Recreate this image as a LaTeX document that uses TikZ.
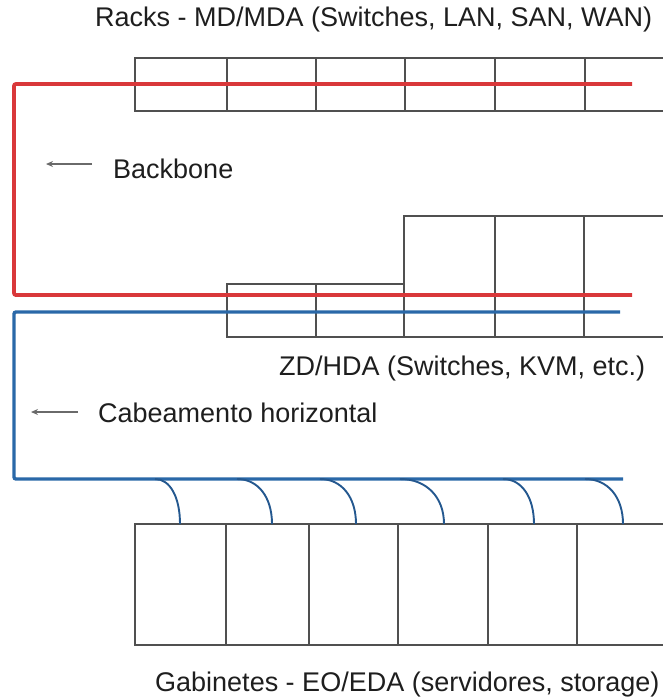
\documentclass[tikz,border=0pt]{standalone}
\usepackage{fontspec}
\setmainfont{Liberation Sans}
\usetikzlibrary{arrows.meta}
\definecolor{rackgray}{HTML}{505050}
\definecolor{bbred}{HTML}{D9383A}
\definecolor{hzblue}{HTML}{2A68A8}
\definecolor{txt}{HTML}{1E1E1E}
\tikzset{
  rack/.style={draw=rackgray, line width=1.5pt},
  backbone/.style={draw=bbred, line width=3.8pt, rounded corners=2pt},
  horiz/.style={draw=hzblue, line width=3.4pt, rounded corners=2pt},
  patch/.style={draw=hzblue!85!black, line width=1.9pt},
  pointer/.style={draw=rackgray!85, line width=2pt, -{Stealth[length=7pt,width=6pt]}},
  lbl/.style={text=txt, inner sep=0pt, anchor=base west, font=\fontsize{27}{32}\selectfont}
}
\begin{document}
\begin{tikzpicture}[x=1pt,y=-1pt]
\useasboundingbox (0,0) rectangle (663,697);
% ---- top rack row (MD/MDA)
\draw[rack] (663,58) -- (135,58) -- (135,111) -- (663,111);
\foreach \x in {227,316,405,495,585} \draw[rack] (\x,58) -- (\x,111);
% ---- middle racks (ZD/HDA)
\draw[rack] (663,216) -- (404,216) -- (404,337);
\draw[rack] (404,284) -- (227,284) -- (227,337) -- (663,337);
\foreach \x in {316} \draw[rack] (\x,284) -- (\x,337);
\foreach \x in {495,584} \draw[rack] (\x,216) -- (\x,337);
% ---- bottom cabinets (EO/EDA)
\draw[rack] (663,524) -- (135,524) -- (135,645) -- (663,645);
\foreach \x in {226,309,398,488,577} \draw[rack] (\x,524) -- (\x,645);
% ---- backbone (red)
\coordinate (bbA) at (632,84);
\coordinate (bbB) at (14,84);
\coordinate (bbC) at (14,295);
\coordinate (bbD) at (632,295);
\draw[backbone] (bbA) -- (bbB) -- (bbC) -- (bbD);
% ---- horizontal cabling (blue)
\coordinate (hzA) at (620,312);
\coordinate (hzB) at (14,312);
\coordinate (hzC) at (14,479);
\coordinate (hzD) at (623,479);
\draw[horiz] (hzA) -- (hzB) -- (hzC) -- (hzD);
% ---- patch arcs
\foreach \s/\e [count=\i] in {155/180,237/272,320/356,400/444,503/534,585/623}{
  \coordinate (ps\i) at (\s,479);
  \coordinate (pe\i) at (\e,524);
  \draw[patch] (ps\i) .. controls ({\s+0.6*(\e-\s)},479) and (\e,{479+0.4*45}) .. (pe\i);
}
% ---- labels
\node[lbl] (title) at (95,26) {Racks - MD/MDA (Switches, LAN, SAN, WAN)};
\node[lbl] (bblbl) at (113,178) {Backbone};
\node[lbl] (zdlbl) at (279,375) {ZD/HDA (Switches, KVM, etc.)};
\node[lbl] (hzlbl) at (98,422) {Cabeamento horizontal};
\node[lbl] (eolbl) at (155,691) {Gabinetes - EO/EDA (servidores, storage)};
% ---- pointers
\coordinate (bbp1) at (92,164);
\coordinate (bbp0) at (46,164);
\draw[pointer] (bbp1) -- (bbp0);
\coordinate (hzp1) at (78,412);
\coordinate (hzp0) at (31,412);
\draw[pointer] (hzp1) -- (hzp0);
\end{tikzpicture}
\end{document}
